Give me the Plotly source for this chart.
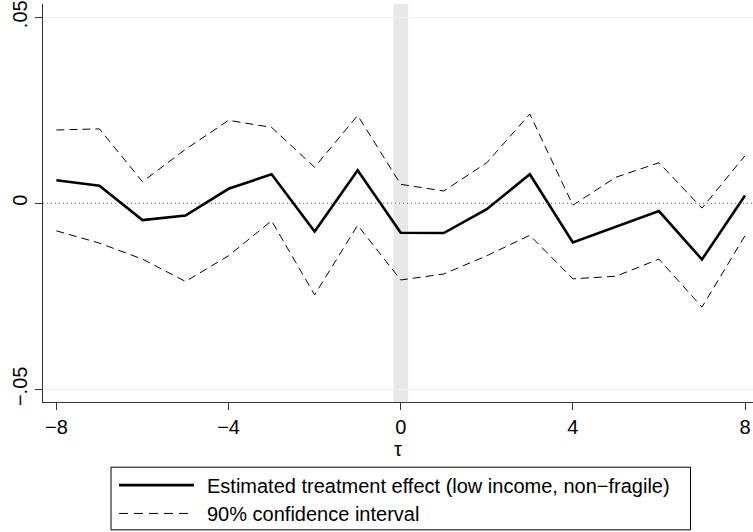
import plotly.graph_objects as go

# ---- data ----
tau = [-8, -7, -6, -5, -4, -3, -2, -1, 0, 1, 2, 3, 4, 5, 6, 7, 8]
estimate = [0.0062, 0.0047, -0.0045, -0.0033, 0.0039, 0.0078, -0.0076, 0.0089,
            -0.0079, -0.0080, -0.0016, 0.0078, -0.0105, -0.0062, -0.0021, -0.0151, 0.0021]
ci_upper = [0.0197, 0.0200, 0.0058, 0.0145, 0.0223, 0.0204, 0.0097, 0.0236,
            0.0051, 0.0033, 0.0109, 0.0240, -0.0005, 0.0070, 0.0109, -0.0013, 0.0128]
ci_lower = [-0.0074, -0.0107, -0.0150, -0.0210, -0.0141, -0.0047, -0.0246, -0.0059,
            -0.0206, -0.0190, -0.0141, -0.0086, -0.0203, -0.0196, -0.0150, -0.0279, -0.0087]

x_ticks = [-8, -4, 0, 4, 8]
x_tick_labels = ["\u22128", "\u22124", "0", "4", "8"]
y_ticks = [-0.05, 0, 0.05]
y_tick_labels = ["\u2212.05", "0", ".05"]
label_est = "Estimated treatment effect (low income, non\u2212fragile)"
label_ci = "90% confidence interval"
x_title = "\u03c4"

# ---- layout geometry (pixels) ----
W, H = 753, 532
ML, MR, MT, MB = 43, 0, 2, 130
PW = W - ML - MR
PH = H - MT - MB

def px(x):
    return (x - ML) / PW

def py(y):
    return (H - MB - y) / PH

FONT = "Liberation Sans, Arial, Helvetica, sans-serif"
FS = 20

fig = go.Figure()

fig.add_trace(go.Scatter(x=tau, y=ci_upper, mode="lines",
                         line=dict(color="black", width=1, dash="8px,5px"),
                         showlegend=False, hoverinfo="skip"))
fig.add_trace(go.Scatter(x=tau, y=ci_lower, mode="lines",
                         line=dict(color="black", width=1, dash="8px,5px"),
                         showlegend=False, hoverinfo="skip"))
fig.add_trace(go.Scatter(x=tau, y=estimate, mode="lines",
                         line=dict(color="black", width=2.6),
                         showlegend=False))

shapes = [
    # shaded band at tau = 0
    dict(type="rect", xref="x", yref="paper", x0=-0.17, x1=0.175, y0=0, y1=1,
         fillcolor="#e8e8e8", line=dict(width=0), layer="below"),
    # dotted zero line
    dict(type="line", xref="paper", yref="y", x0=0, x1=1, y0=0, y1=0,
         line=dict(color="#666666", width=1, dash="1px,3px"), layer="above"),
    # legend box
    dict(type="rect", xref="paper", yref="paper",
         x0=px(111), x1=px(690.5), y0=py(467.5), y1=py(530.5),
         line=dict(color="black", width=1), fillcolor="white"),
    # legend symbols
    dict(type="line", xref="paper", yref="paper",
         x0=px(119), x1=px(194), y0=py(485.5), y1=py(485.5),
         line=dict(color="black", width=2.6)),
    dict(type="line", xref="paper", yref="paper",
         x0=px(119), x1=px(194), y0=py(514), y1=py(514),
         line=dict(color="black", width=1, dash="9px,6px")),
]

annotations = [
    dict(text=label_est, xref="paper", yref="paper", x=px(205), y=py(486),
         xanchor="left", yanchor="middle", showarrow=False,
         font=dict(family=FONT, size=FS, color="black")),
    dict(text=label_ci, xref="paper", yref="paper", x=px(205), y=py(515),
         xanchor="left", yanchor="middle", showarrow=False,
         font=dict(family=FONT, size=FS, color="black")),
]

x0v = 400.7
sx = 43.04
y0v = 202.3
sy = 3740.0
xr = [(ML - x0v) / sx, (W - MR - x0v) / sx]
yr = [(y0v - (H - MB)) / sy, (y0v - MT) / sy]

fig.update_layout(
    width=W, height=H,
    margin=dict(l=ML, r=MR, t=MT, b=MB, pad=0),
    paper_bgcolor="white", plot_bgcolor="white",
    font=dict(family=FONT, size=FS, color="black"),
    shapes=shapes, annotations=annotations,
    showlegend=False,
    xaxis=dict(range=xr, tickvals=x_ticks, ticktext=x_tick_labels,
               showgrid=False, zeroline=False,
               showline=True, linecolor="#333333", linewidth=1,
               ticks="outside", ticklen=7, tickcolor="#333333", tickwidth=1,
               tickfont=dict(size=FS, family=FONT),
               ticklabeloverflow="allow",
               title=dict(text=x_title, font=dict(size=FS, family=FONT), standoff=1)),
    yaxis=dict(range=yr, tickvals=y_ticks, ticktext=y_tick_labels,
               tickangle=-90,
               showgrid=True, gridcolor="#eaf2f3", gridwidth=1, zeroline=False,
               showline=True, linecolor="#333333", linewidth=1,
               ticks="outside", ticklen=7, tickcolor="#333333", tickwidth=1,
               ticklabeloverflow="allow",
               tickfont=dict(size=FS, family=FONT)),
)

fig.write_html("out.html")
